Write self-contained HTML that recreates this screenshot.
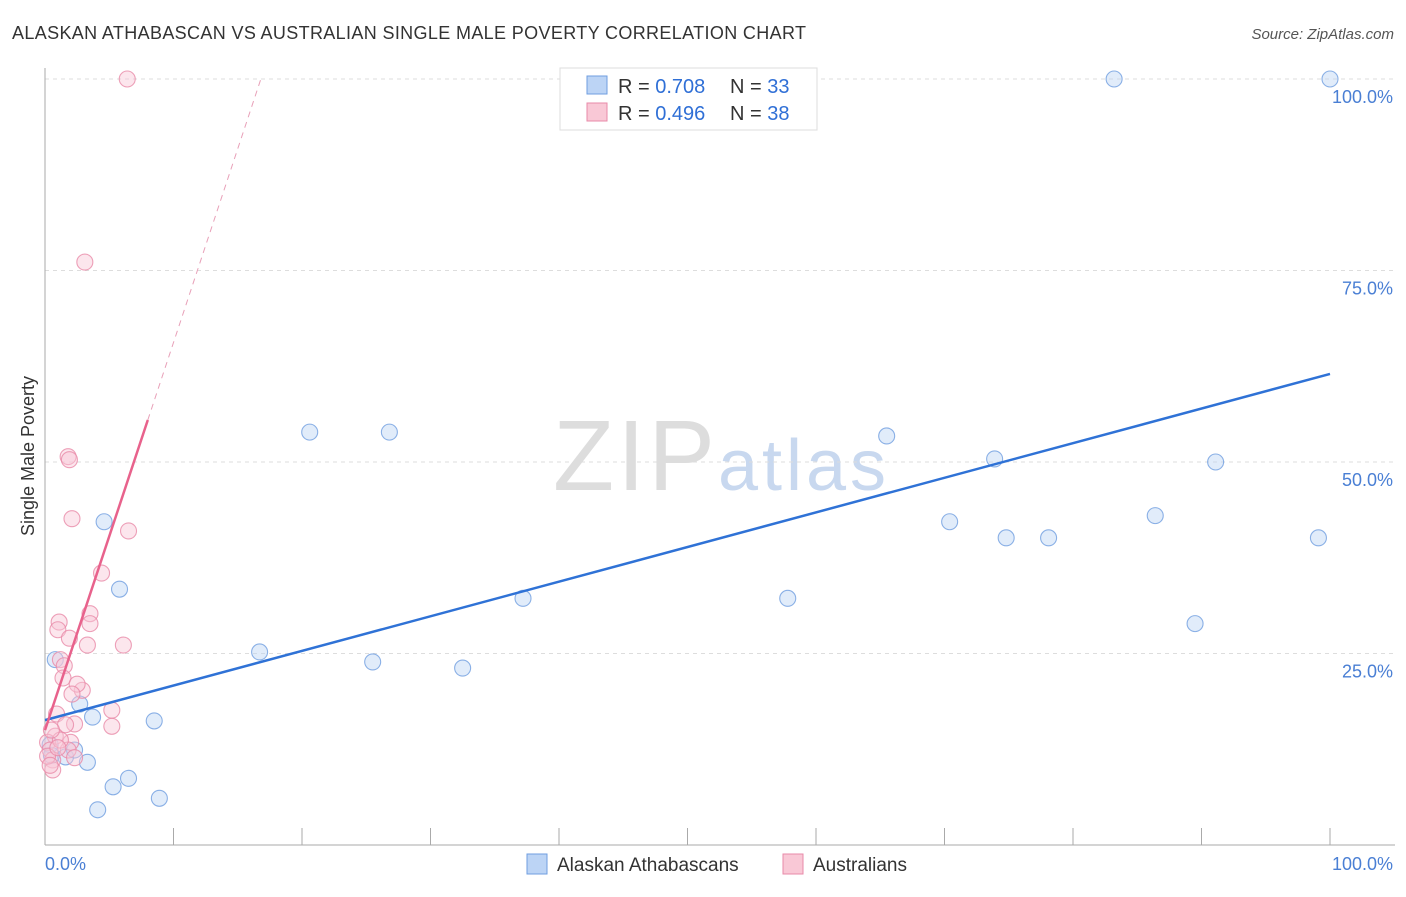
<!DOCTYPE html>
<html><head><meta charset="utf-8"><style>
body{margin:0;background:#fff;font-family:"Liberation Sans",sans-serif;}
svg text{font-family:"Liberation Sans",sans-serif;}
</style></head><body>
<svg id="chart" width="1406" height="892">
<text x="12" y="39" font-size="18" fill="#333" textLength="794">ALASKAN ATHABASCAN VS AUSTRALIAN SINGLE MALE POVERTY CORRELATION CHART</text>
<text x="1394" y="39" font-size="15" fill="#555" text-anchor="end" font-style="italic">Source: ZipAtlas.com</text>
<text x="553" y="490" font-size="100" fill="#ddd" textLength="162" font-family="Liberation Serif">ZIP</text>
<text x="718" y="490" font-size="72" fill="#c8d8ef" textLength="168">atlas</text>
<g id="grid"></g>
<line x1="45" y1="68" x2="45" y2="845" stroke="#aaa"/>
<line x1="45" y1="845" x2="1395" y2="845" stroke="#aaa"/>
<g id="marks"></g>
<text transform="translate(34,456) rotate(-90)" font-size="18" fill="#333" text-anchor="middle">Single Male Poverty</text>
<text x="45" y="870" font-size="18" fill="#4a7fd4">0.0%</text>
<text x="1393" y="870" font-size="18" fill="#4a7fd4" text-anchor="end">100.0%</text>
<g>
<rect x="560" y="68" width="257" height="62" fill="#fff" stroke="#ddd"/>
<rect x="587" y="76" width="20" height="18" fill="#bcd4f5" stroke="#6f9ee0"/>
<rect x="587" y="103" width="20" height="18" fill="#f9c8d6" stroke="#e88aa8"/>
<text x="618" y="93" font-size="20" fill="#333">R = <tspan fill="#2f6fd6">0.708</tspan></text>
<text x="730" y="93" font-size="20" fill="#333">N = <tspan fill="#2f6fd6">33</tspan></text>
<text x="618" y="120" font-size="20" fill="#333">R = <tspan fill="#2f6fd6">0.496</tspan></text>
<text x="730" y="120" font-size="20" fill="#333">N = <tspan fill="#2f6fd6">38</tspan></text>
</g>
<g>
<rect x="527" y="854" width="20" height="20" fill="#bcd4f5" stroke="#6f9ee0"/>
<text x="557" y="871" font-size="19" fill="#333">Alaskan Athabascans</text>
<rect x="783" y="854" width="20" height="20" fill="#f9c8d6" stroke="#e88aa8"/>
<text x="813" y="871" font-size="19" fill="#333">Australians</text>
</g>
</svg>
<script>
const yTicks=[25,50,75,100];
const xTicks=[10,20,30,40,50,60,70,80,90,100];
const blueX=[0.8,4.6,5.8,2.7,3.7,1.6,3.3,5.3,6.5,4.1,8.5,8.9,16.7,20.6,26.8,25.5,32.5,37.2,57.8,65.5,70.4,73.9,74.8,78.1,83.2,86.4,89.5,91.1,99.1,100,0.4,0.5,2.3];
const blueY=[24.2,42.2,33.4,18.4,16.7,11.5,10.8,7.6,8.7,4.6,16.2,6.1,25.2,53.9,53.9,23.9,23.1,32.2,32.2,53.4,42.2,50.4,40.1,40.1,100,43.0,28.9,50.0,40.1,100,13.1,11.7,12.4];
const pinkX=[6.4,3.1,1.8,1.9,2.1,6.5,4.4,3.5,1.1,1.0,3.5,1.9,3.3,6.1,1.2,1.5,1.4,2.9,2.5,2.1,0.9,2.3,5.2,5.2,1.6,2.0,0.8,0.2,0.4,0.6,1.8,2.3,0.6,0.2,1.2,1.0,0.5,0.4];
const pinkY=[100,76.1,50.7,50.3,42.6,41.0,35.5,30.2,29.1,28.1,28.9,27.0,26.1,26.1,24.2,23.4,21.8,20.2,21.0,19.7,17.1,15.8,17.6,15.5,15.7,13.4,14.2,13.4,12.4,11.1,12.4,11.4,9.8,11.6,13.7,12.7,15.0,10.4];
const blueLine=[16.3,0.452];
const pinkLine=[15.0,5.06];
const pinkSolidEnd=8.0, pinkDashEnd=16.8;
const sx=v=>45+v*12.85, sy=v=>845-v*7.66;
const NS='http://www.w3.org/2000/svg';
const grid=document.getElementById('grid'), marks=document.getElementById('marks');
function mk(tag,attrs,parent){const e=document.createElementNS(NS,tag);for(const k in attrs)e.setAttribute(k,attrs[k]);parent.appendChild(e);return e;}
yTicks.forEach(t=>{
 const l=mk('line',{x1:45,x2:1395,y1:sy(t),y2:sy(t),stroke:'#ddd','stroke-dasharray':'4,4'},grid);
 
 
 const tx=mk('text',{x:1393,y:sy(t)+24,'font-size':18,fill:'#4a7fd4','text-anchor':'end'},grid);
 tx.textContent=t.toFixed(1)+'%';
 
 
});
xTicks.forEach(t=>{
 const l=mk('line',{x1:sx(t),x2:sx(t),y1:828,y2:845,stroke:'#aaa'},grid);
 
 
});
function dots(xs,ys,fill,stroke,name){xs.forEach((x,i)=>{
 const c=mk('circle',{cx:sx(x),cy:sy(ys[i]),r:8,fill:fill,'fill-opacity':0.45,stroke:stroke,'stroke-opacity':0.8,'stroke-width':1.1},marks);
 
 
});}
dots(blueX,blueY,'#bcd4f5','#6f9ee0','athabascan-point');
dots(pinkX,pinkY,'#f9c8d6','#e88aa8','australian-point');
let l=mk('line',{x1:sx(0),y1:sy(blueLine[0]),x2:sx(100),y2:sy(blueLine[0]+blueLine[1]*100),stroke:'#2f72d6','stroke-width':2.5},marks);


l=mk('line',{x1:sx(0),y1:sy(pinkLine[0]),x2:sx(pinkSolidEnd),y2:sy(pinkLine[0]+pinkLine[1]*pinkSolidEnd),stroke:'#e8628c','stroke-width':2.5},marks);


l=mk('line',{x1:sx(pinkSolidEnd),y1:sy(pinkLine[0]+pinkLine[1]*pinkSolidEnd),x2:sx(pinkDashEnd),y2:sy(pinkLine[0]+pinkLine[1]*pinkDashEnd),stroke:'#e8a0b8','stroke-width':1,'stroke-dasharray':'6,5'},marks);


</script>
</body></html>
